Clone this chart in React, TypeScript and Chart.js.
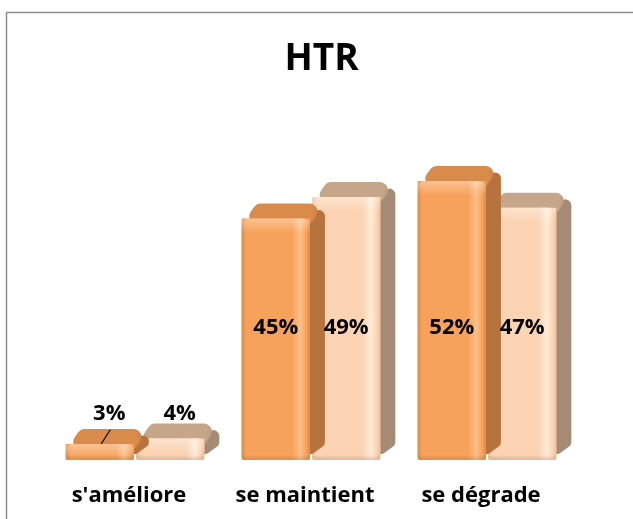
import React, { useEffect, useRef } from 'react';
import { Chart, registerables } from 'chart.js';

Chart.register(...registerables);

const categories = ["s'améliore", 'se maintient', 'se dégrade'];
const seriesA = [3, 45, 52];
const seriesB = [4, 49, 47];
const labelsA = ['3%', '45%', '52%'];
const labelsB = ['4%', '49%', '47%'];
const seriesLabels = [labelsA, labelsB];
const titleText = 'HTR';

const FONT = '"Open Sans", Lato, "DejaVu Sans", sans-serif';
const DX = 15;
const DY = 15;

const palette = [
  { front: '#F7A25B', dark: '#DF8B47', light: '#FBC08A', top: '#D98B4C', side: '#B7733E' },
  { front: '#FCD4B3', dark: '#E9BE9C', light: '#FFEBD8', top: '#C6A689', side: '#A68B74' },
];

type Pt = [number, number];

function roundPoly(ctx: CanvasRenderingContext2D, pts: Pt[], r: number) {
  const n = pts.length;
  ctx.beginPath();
  const mid = (a: Pt, b: Pt): Pt => [(a[0] + b[0]) / 2, (a[1] + b[1]) / 2];
  const start = mid(pts[n - 1], pts[0]);
  ctx.moveTo(start[0], start[1]);
  for (let i = 0; i < n; i++) {
    const p = pts[i];
    const q = pts[(i + 1) % n];
    ctx.arcTo(p[0], p[1], q[0], q[1], r);
  }
  ctx.closePath();
}

const framePlugin = {
  id: 'frame',
  beforeDraw(chart: any) {
    const ctx = chart.ctx as CanvasRenderingContext2D;
    ctx.save();
    ctx.fillStyle = '#ffffff';
    ctx.fillRect(0, 0, chart.width, chart.height);
    ctx.strokeStyle = '#8E8E8E';
    ctx.lineWidth = 1.5;
    ctx.strokeRect(6.5, 12.5, chart.width + 20, chart.height + 20);
    ctx.fillStyle = '#000';
    ctx.font = `bold 37px ${FONT}`;
    ctx.textAlign = 'center';
    ctx.textBaseline = 'alphabetic';
    ctx.fillText(titleText, 321.5, 70);
    ctx.restore();
  },
};

const bar3dPlugin = {
  id: 'bar3d',
  beforeDatasetDraw(chart: any, args: any) {
    const ctx = chart.ctx as CanvasRenderingContext2D;
    const col = palette[args.index];
    ctx.save();
    args.meta.data.forEach((el: any) => {
      const { x, y, base, width } = el.getProps(['x', 'y', 'base', 'width'], true);
      const xl = x - width / 2;
      const xr = x + width / 2;
      const top = y;
      ctx.fillStyle = col.side;
      roundPoly(ctx, [[xr - 6, top + 2], [xr + DX, top - DY], [xr + DX, base - DY], [xr - 6, base]], 6);
      ctx.fill();
      const tg = ctx.createLinearGradient(xl, 0, xr + DX, 0);
      tg.addColorStop(0, col.top);
      tg.addColorStop(0.85, col.top);
      tg.addColorStop(1, col.side);
      ctx.fillStyle = tg;
      roundPoly(ctx, [[xl, top + 6], [xl + DX, top - DY], [xr + DX, top - DY], [xr, top + 6]], 8);
      ctx.fill();
    });
    ctx.restore();
  },
  afterDatasetDraw(chart: any, args: any) {
    const ctx = chart.ctx as CanvasRenderingContext2D;
    const col = palette[args.index];
    ctx.save();
    args.meta.data.forEach((el: any) => {
      const { x, y, base, width } = el.getProps(['x', 'y', 'base', 'width'], true);
      const xl = x - width / 2;
      const h = base - y;
      const g = ctx.createLinearGradient(xl, 0, xl + width, 0);
      g.addColorStop(0, col.dark);
      g.addColorStop(0.07, col.front);
      g.addColorStop(0.74, col.front);
      g.addColorStop(0.86, col.light);
      g.addColorStop(0.95, col.front);
      g.addColorStop(1, col.dark);
      ctx.fillStyle = g;
      ctx.beginPath();
      (ctx as any).roundRect(xl, y, width, h, [7, 7, 4, 4]);
      ctx.fill();
      const hh = Math.min(14, h);
      const vg = ctx.createLinearGradient(0, y, 0, y + hh);
      vg.addColorStop(0, 'rgba(255,255,255,0.35)');
      vg.addColorStop(1, 'rgba(255,255,255,0)');
      ctx.fillStyle = vg;
      ctx.beginPath();
      (ctx as any).roundRect(xl, y, width, hh, [7, 7, 0, 0]);
      ctx.fill();
      const bg = ctx.createLinearGradient(0, base - 5, 0, base);
      bg.addColorStop(0, 'rgba(0,0,0,0)');
      bg.addColorStop(1, 'rgba(120,60,20,0.18)');
      ctx.fillStyle = bg;
      ctx.beginPath();
      (ctx as any).roundRect(xl, base - 5, width, 5, [0, 0, 4, 4]);
      ctx.fill();
    });
    ctx.restore();
  },
};

const labelPlugin = {
  id: 'valueLabels',
  afterDatasetsDraw(chart: any) {
    const ctx = chart.ctx as CanvasRenderingContext2D;
    const yScale = chart.scales.y;
    ctx.save();
    ctx.fillStyle = '#000';
    ctx.strokeStyle = '#000';
    ctx.font = `bold 22px ${FONT}`;
    ctx.textAlign = 'center';
    ctx.textBaseline = 'alphabetic';
    chart.data.datasets.forEach((ds: any, di: number) => {
      const meta = chart.getDatasetMeta(di);
      meta.data.forEach((el: any, i: number) => {
        const v = ds.data[i];
        const txt = seriesLabels[di][i];
        const { x } = el.getProps(['x'], true);
        if (v >= 10) {
          ctx.fillText(txt, x, yScale.getPixelForValue(25) + 8);
        } else {
          const lx = x + DX / 2 + 2;
          const ly = yScale.getPixelForValue(9);
          ctx.fillText(txt, lx, ly + 8);
          if (di === 0) {
            ctx.lineWidth = 1.2;
            ctx.beginPath();
            ctx.moveTo(lx + 1, ly + 18);
            ctx.lineTo(lx - 8, ly + 32);
            ctx.stroke();
          }
        }
      });
    });
    ctx.restore();
  },
};

export default function App() {
  const ref = useRef<HTMLCanvasElement | null>(null);
  useEffect(() => {
    if (!ref.current) return;
    const chart = new Chart(ref.current, {
      type: 'bar',
      data: {
        labels: categories,
        datasets: [
          { label: 'A', data: seriesA, backgroundColor: palette[0].front, borderWidth: 0, clip: false as any },
          { label: 'B', data: seriesB, backgroundColor: palette[1].front, borderWidth: 0, clip: false as any },
        ],
      },
      options: {
        responsive: false,
        animation: false,
        datasets: { bar: { categoryPercentage: 0.8, barPercentage: 0.97 } },
        layout: { padding: { left: 47, right: 58, top: 138, bottom: 0 } },
        plugins: {
          legend: { display: false },
          tooltip: { enabled: false },
          title: { display: false },
        },
        scales: {
          x: {
            grid: { display: false, drawTicks: false },
            border: { display: false },
            afterFit: (s: any) => {
              s.height = 59;
            },
            ticks: {
              color: '#000',
              font: { family: FONT, size: 22, weight: 'bold' },
              padding: 23,
              labelOffset: -6,
              maxRotation: 0,
            },
          },
          y: {
            display: false,
            min: 0,
            max: 60,
          },
        },
      },
      plugins: [framePlugin, bar3dPlugin, labelPlugin],
    });
    return () => chart.destroy();
  }, []);
  return (
    <div style={{ position: 'fixed', left: 0, top: 0, width: 633, height: 519, background: '#fff' }}>
      <canvas ref={ref} width={633} height={519} style={{ width: 633, height: 519, display: 'block' }} />
    </div>
  );
}
